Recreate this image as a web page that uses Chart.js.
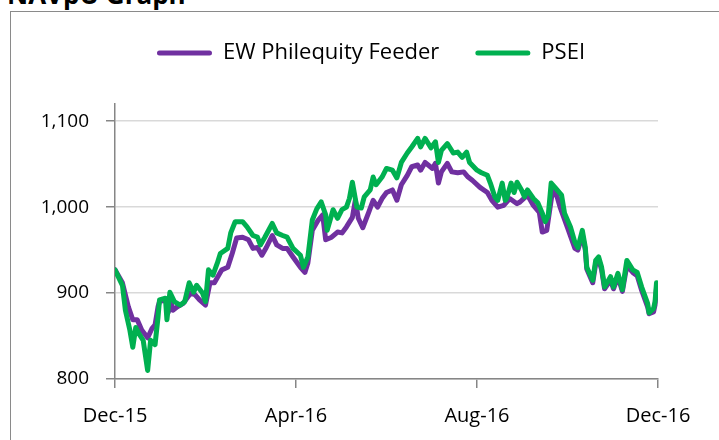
<!DOCTYPE html>
<html><head><meta charset="utf-8">
<script src="https://cdn.jsdelivr.net/npm/chart.js@4.4.1/dist/chart.umd.min.js"></script>
<style>
html,body{margin:0;padding:0;overflow:hidden;background:#fff;width:719px;height:440px;}
#title{position:absolute;left:7px;top:-19px;font:bold 26px/26px "Open Sans",sans-serif;color:#000;white-space:nowrap;}
#frame{position:absolute;left:10px;top:11px;width:760px;height:480px;border:1px solid #8a8a8a;box-sizing:border-box;}
#wrap{position:absolute;left:11px;top:12px;width:720px;height:440px;}
</style>
</head><body>
<div id="title">NAVpU Graph</div>
<div id="frame"></div>
<div id="wrap"><canvas id="c" width="720" height="440"></canvas></div>
<script>
const xTickLabels = ['Dec-15','Apr-16','Aug-16','Dec-16'];
const xTickDays = [0,122,244,366];
const yTickValues = [800,900,1000,1100];

const ewDays = [0,5,9,12,15,18,22,25,27,29,30,34,36,37,39,42,46,51,54,57,61,64,67,72,76,79,82,86,90,93,96,99,102,106,109,113,116,120,125,128,130,133,137,140,142,146,150,153,156,160,162,164,167,171,174,177,180,183,187,190,193,197,200,204,206,209,214,216,218,220,224,227,231,235,238,241,246,251,254,258,262,266,271,273,278,282,286,288,291,295,298,300,305,310,312,315,317,318,322,324,326,328,330,334,336,339,342,345,349,352,355,359,360,363,364,365];
const ewValues = [927,912,884,869,869,857,848,859,863,884,890,892,878,895,880,884,888,900,898,892,886,912,912,927,930,946,964,965,962,952,953,944,953,967,956,952,952,942,930,924,935,973,985,991,962,965,971,970,977,988,1008,987,976,994,1008,1000,1010,1017,1020,1008,1026,1037,1047,1049,1043,1052,1045,1051,1028,1041,1051,1041,1040,1041,1035,1031,1023,1017,1008,1000,1002,1010,1004,1006,1014,1002,994,971,973,1020,1012,1000,976,952,950,968,950,928,912,934,939,927,905,915,905,919,902,932,924,920,903,884,876,878,886,906];

const pseiDays = [0,5,7,10,12,14,16,19,22,24,27,29,30,34,35,37,40,44,47,50,53,55,59,61,63,66,69,71,76,78,81,86,89,93,96,98,101,106,109,113,116,120,125,127,130,133,136,139,142,143,147,150,153,156,158,160,163,166,168,172,174,176,180,183,187,190,193,197,200,204,206,209,213,216,218,220,224,228,231,234,237,239,244,247,251,253,256,258,261,263,264,267,269,271,274,276,278,282,285,288,290,292,294,297,301,303,307,310,312,315,317,318,322,324,326,328,330,334,336,339,342,345,349,352,355,359,360,363,364,365];
const pseiValues = [927,909,880,857,837,860,853,845,810,845,840,872,892,894,869,901,890,886,890,912,901,909,900,890,927,921,935,946,952,970,983,983,977,967,965,956,965,981,970,967,965,952,944,930,942,985,998,1006,991,973,997,987,997,1000,1010,1029,1000,999,1012,1020,1035,1026,1035,1045,1043,1034,1052,1063,1070,1080,1070,1080,1069,1076,1052,1066,1074,1063,1064,1058,1064,1052,1043,1040,1037,1028,1012,1008,1028,1008,1010,1028,1017,1029,1020,1012,1020,1010,1005,993,983,990,1028,1022,1014,993,977,959,953,973,953,930,915,938,942,930,907,919,907,923,904,938,927,924,907,888,877,882,890,912];

const FONT = '"Open Sans", sans-serif';
const toPts = (xs, ys) => xs.map((d, i) => ({x: d, y: ys[i]}));

new Chart(document.getElementById('c'), {
  type: 'line',
  data: {
    datasets: [
      {label: 'EW Philequity Feeder', data: toPts(ewDays, ewValues), borderColor: '#7030A0', backgroundColor: '#7030A0',
       borderWidth: 5, pointRadius: 0, tension: 0, order: 1, borderJoinStyle: 'round', borderCapStyle: 'round'},
      {label: 'PSEI', data: toPts(pseiDays, pseiValues), borderColor: '#00B050', backgroundColor: '#00B050',
       borderWidth: 5, pointRadius: 0, tension: 0, order: 0, borderJoinStyle: 'round', borderCapStyle: 'round'}
    ]
  },
  options: {
    responsive: false, animation: false, devicePixelRatio: 1,
    layout: {padding: {top: -6, left: 0, right: 0, bottom: 0}},
    plugins: {
      tooltip: {enabled: false},
      legend: {
        position: 'top',
        labels: {
          boxWidth: 55, boxHeight: 5, padding: 36, color: '#000',
          font: {family: FONT, size: 22},
          useBorderRadius: true, borderRadius: 2.5,
          sort: (a, b) => a.datasetIndex - b.datasetIndex,
          generateLabels: (chart) => {
            const items = Chart.defaults.plugins.legend.labels.generateLabels(chart);
            items.forEach(it => { it.lineWidth = 0; });
            return items;
          }
        }
      }
    },
    scales: {
      x: {
        type: 'linear', min: 0, max: 366,
        afterBuildTicks: s => { s.ticks = xTickDays.map(v => ({value: v})); },
        afterFit: s => { s.height = 73; },
        ticks: {callback: v => xTickLabels[xTickDays.indexOf(v)], color: '#000', font: {family: FONT, size: 20}, padding: 16, maxRotation: 0, autoSkip: false},
        grid: {drawOnChartArea: false, drawTicks: true, tickLength: 9, color: '#868686', tickColor: '#868686', lineWidth: 1.5},
        border: {color: '#868686', width: 1.5}
      },
      y: {
        type: 'linear', min: 800, max: 1120,
        afterBuildTicks: s => { s.ticks = yTickValues.map(v => ({value: v})); },
        afterFit: s => { s.width = 104; },
        ticks: {callback: v => v.toLocaleString('en-US'), color: '#000', font: {family: FONT, size: 19}, padding: 17},
        grid: {color: '#d9d9d9', lineWidth: 1.5, tickLength: 9, tickColor: '#868686'},
        border: {color: '#868686', width: 1.5}
      },
      topSpacer: {
        type: 'linear', position: 'top', display: true,
        grid: {display: false}, ticks: {display: false}, border: {display: false},
        afterFit: s => { s.height = 30; }
      },
      rightSpacer: {
        type: 'linear', position: 'right', display: true,
        grid: {display: false}, ticks: {display: false}, border: {display: false},
        afterFit: s => { s.width = 73; }
      }
    }
  }
});
</script>
</body></html>
